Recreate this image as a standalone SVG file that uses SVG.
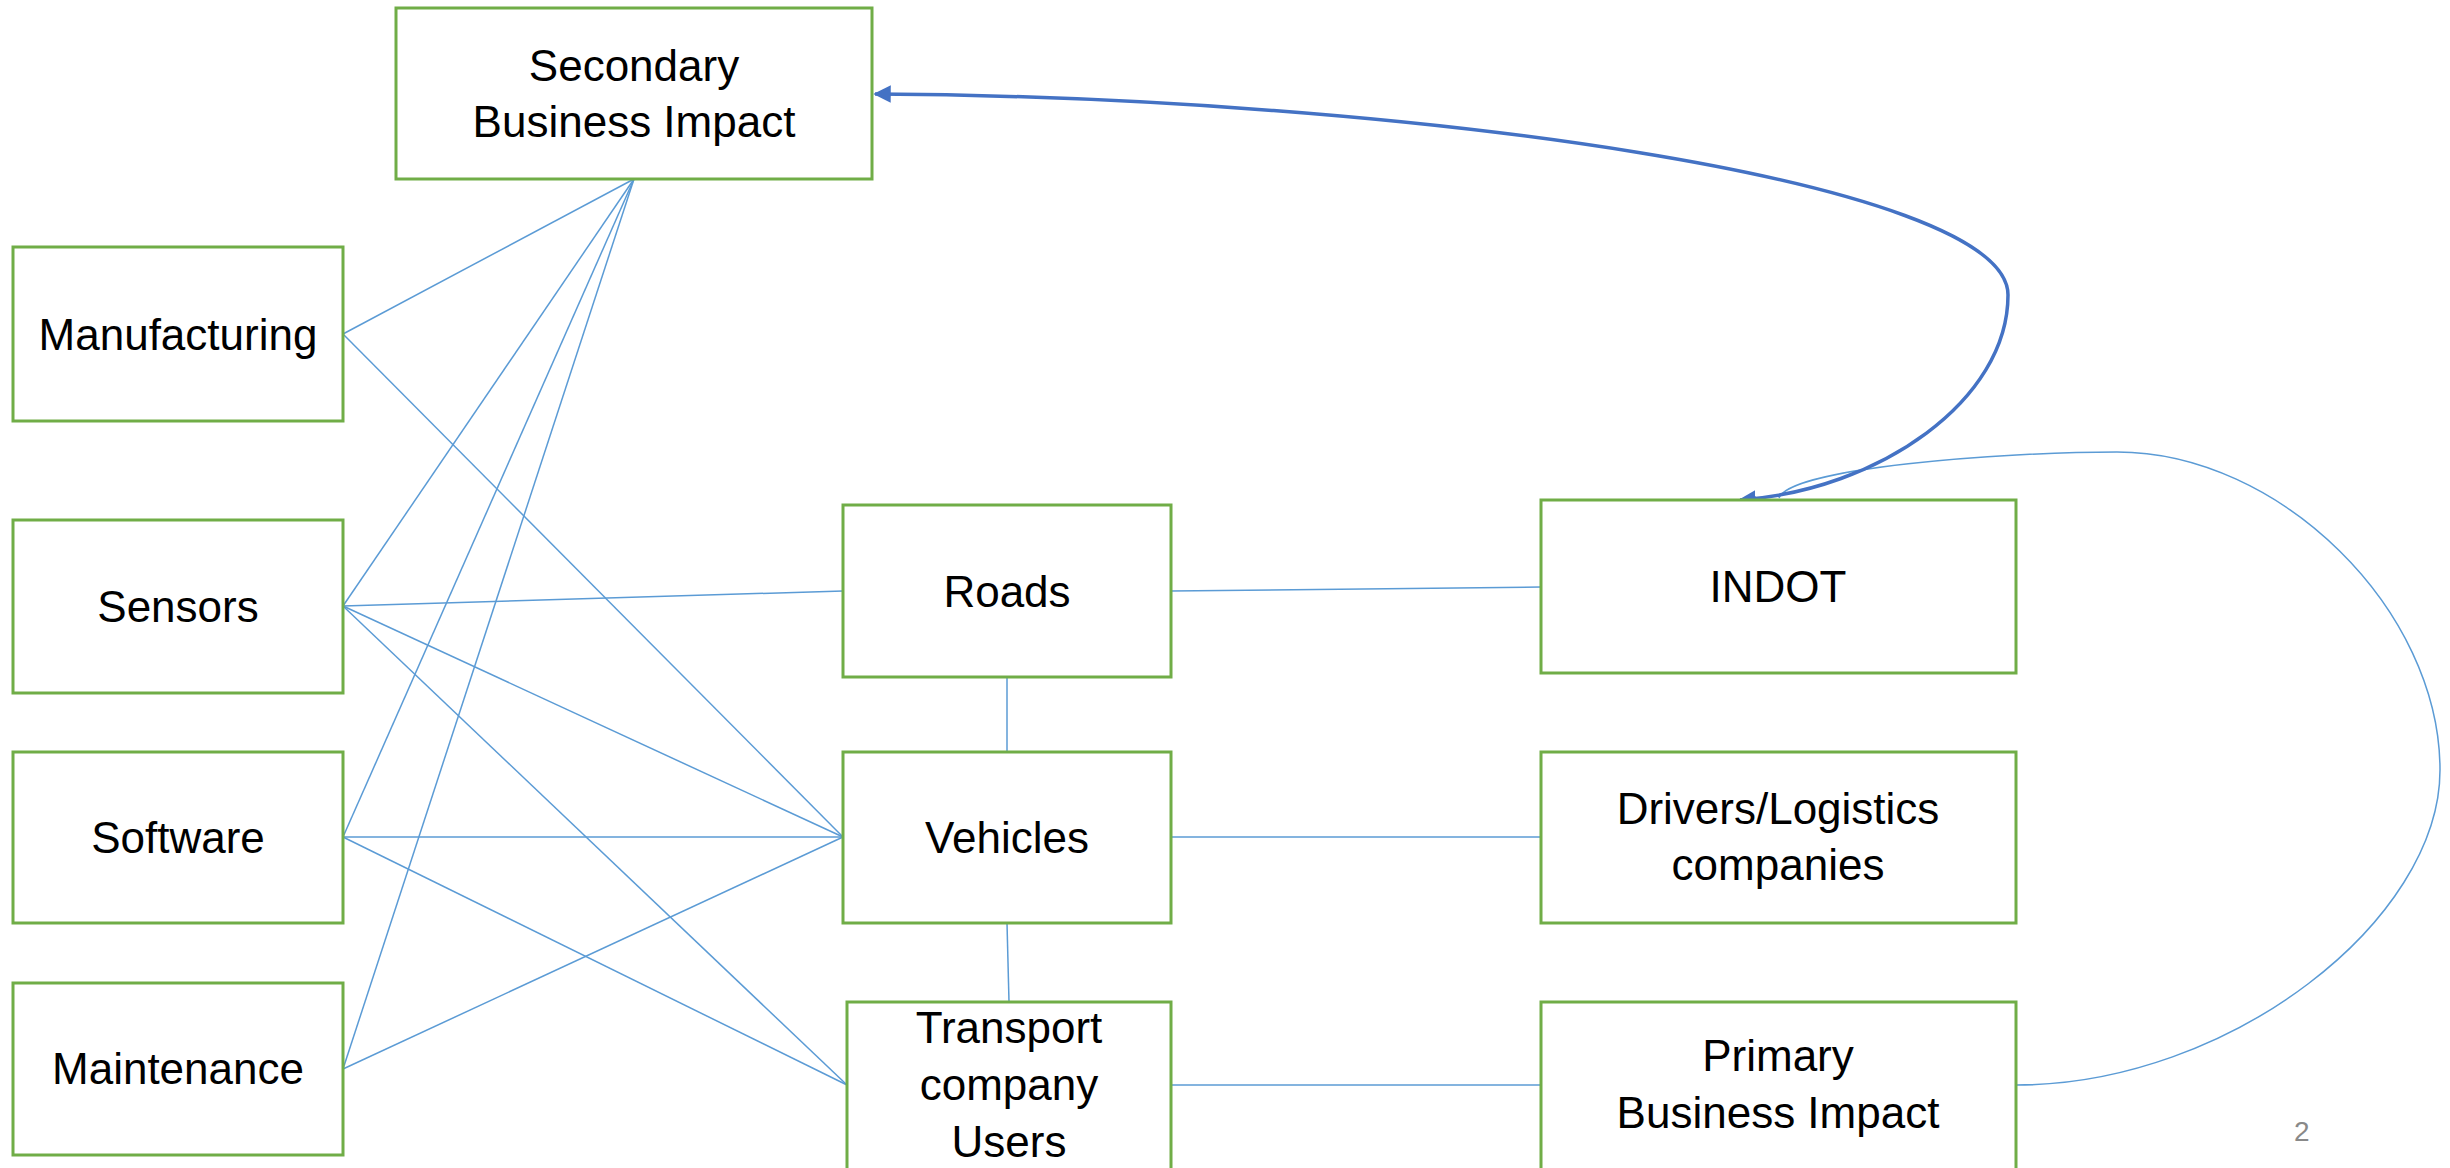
<svg xmlns="http://www.w3.org/2000/svg" width="2450" height="1168" viewBox="0 0 2450 1168">
<style>
.box{fill:#FFFFFF;stroke:#70AD47;stroke-width:3}
.lbl{font-family:"Liberation Sans",Arial,sans-serif;font-size:44px;fill:#000000;text-anchor:middle}
.ln{stroke:#5B9BD5;stroke-width:1.5;fill:none}
.thick{stroke:#4472C4;stroke-width:3.5;fill:none}
.pg{font-family:"Liberation Sans",Arial,sans-serif;font-size:28px;fill:#898989}
</style>
<defs>
<marker id="arr" viewBox="0 0 10 10" refX="9" refY="5" markerWidth="5" markerHeight="5" orient="auto-start-reverse" markerUnits="strokeWidth">
<path d="M0,0 L10,5 L0,10 z" fill="#4472C4"/>
</marker>
</defs>
<rect width="2450" height="1168" fill="#FFFFFF"/>
<g id="connectors">
<line class="ln" x1="634" y1="179" x2="343" y2="334"/>
<line class="ln" x1="634" y1="179" x2="343" y2="606"/>
<line class="ln" x1="634" y1="179" x2="343" y2="837"/>
<line class="ln" x1="634" y1="179" x2="343" y2="1069"/>
<line class="ln" x1="343" y1="334" x2="843" y2="837"/>
<line class="ln" x1="343" y1="606" x2="843" y2="591"/>
<line class="ln" x1="343" y1="606" x2="843" y2="837"/>
<line class="ln" x1="343" y1="606" x2="847" y2="1085"/>
<line class="ln" x1="343" y1="837" x2="843" y2="837"/>
<line class="ln" x1="343" y1="837" x2="847" y2="1085"/>
<line class="ln" x1="343" y1="1069" x2="843" y2="837"/>
<line class="ln" x1="1007" y1="677" x2="1007" y2="752"/>
<line class="ln" x1="1007" y1="923" x2="1009" y2="1002"/>
<line class="ln" x1="1171" y1="591" x2="1541" y2="587"/>
<line class="ln" x1="1171" y1="837" x2="1541" y2="837"/>
<line class="ln" x1="1171" y1="1085" x2="1541" y2="1085"/>
<path class="ln" d="M2016,1085 C2230,1085 2440,920 2440,770 C2440,610 2280,452 2117,452 C2000,452 1790,468 1779,498"/>
<path class="thick" d="M875,94 C1400,97 2008,180 2008,295 C2008,400 1880,490 1740,500" marker-start="url(#arr)" marker-end="url(#arr)"/>
</g>
<g id="secondary">
<rect class="box" x="396" y="8" width="476" height="171"/>
<text class="lbl" x="634" y="81">Secondary</text>
<text class="lbl" x="634" y="137">Business Impact</text>
</g>
<g id="manufacturing">
<rect class="box" x="13" y="247" width="330" height="174"/>
<text class="lbl" x="178" y="350">Manufacturing</text>
</g>
<g id="sensors">
<rect class="box" x="13" y="520" width="330" height="173"/>
<text class="lbl" x="178" y="622">Sensors</text>
</g>
<g id="software">
<rect class="box" x="13" y="752" width="330" height="171"/>
<text class="lbl" x="178" y="853">Software</text>
</g>
<g id="maintenance">
<rect class="box" x="13" y="983" width="330" height="172"/>
<text class="lbl" x="178" y="1084">Maintenance</text>
</g>
<g id="roads">
<rect class="box" x="843" y="505" width="328" height="172"/>
<text class="lbl" x="1007" y="607">Roads</text>
</g>
<g id="vehicles">
<rect class="box" x="843" y="752" width="328" height="171"/>
<text class="lbl" x="1007" y="853">Vehicles</text>
</g>
<g id="transport">
<rect class="box" x="847" y="1002" width="324" height="172"/>
<text class="lbl" x="1009" y="1043">Transport</text>
<text class="lbl" x="1009" y="1100">company</text>
<text class="lbl" x="1009" y="1157">Users</text>
</g>
<g id="indot">
<rect class="box" x="1541" y="500" width="475" height="173"/>
<text class="lbl" x="1778" y="602">INDOT</text>
</g>
<g id="drivers">
<rect class="box" x="1541" y="752" width="475" height="171"/>
<text class="lbl" x="1778" y="824">Drivers/Logistics</text>
<text class="lbl" x="1778" y="880">companies</text>
</g>
<g id="primary">
<rect class="box" x="1541" y="1002" width="475" height="172"/>
<text class="lbl" x="1778" y="1071">Primary</text>
<text class="lbl" x="1778" y="1128">Business Impact</text>
</g>
<text class="pg" x="2294" y="1141">2</text>
</svg>
